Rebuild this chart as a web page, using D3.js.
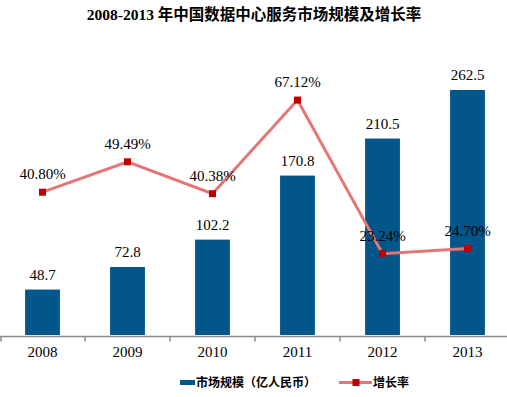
<!DOCTYPE html>
<html>
<head>
<meta charset="utf-8">
<script src="https://cdn.jsdelivr.net/npm/d3@7"></script>
<style>
  body { margin: 0; background: #fff; }
  svg { display: block; }
</style>
</head>
<body>
<div id="chart"></div>
<script>
var w = 507, h = 397;

var years = ["2008", "2009", "2010", "2011", "2012", "2013"];
var marketSize = [48.7, 72.8, 102.2, 170.8, 210.5, 262.5];
var growthRate = [40.80, 49.49, 40.38, 67.12, 23.24, 24.70];

var barColor = "#03568a", lineColor = "#e57676", markColor = "#c00000";
var serif = "'Liberation Serif', 'Times New Roman', 'Noto Sans CJK SC', serif";

var plotTop = 55, base = 335;

var x = d3.scaleBand().domain(years).range([0, 510])
    .paddingInner(0.59).paddingOuter(0.295);
var yBar = d3.scaleLinear().domain([0, 300]).range([base, plotTop]);
var yLine = d3.scaleLinear().domain([0, 80]).range([base, plotTop]);

var svg = d3.select("#chart").append("svg")
    .attr("width", w)
    .attr("height", h)

// title
svg.append("text")
    .attr("x", 254).attr("y", 20)
    .attr("text-anchor", "middle")
    .style("font-family", serif)
    .style("font-weight", "bold")
    .style("font-size", "15.5px")
    .text("2008-2013 年中国数据中心服务市场规模及增长率");

// bars
svg.selectAll(".bar").data(years).enter().append("rect")
    .attr("class", "bar")
    .attr("x", function(d){ return x(d); })
    .attr("y", function(d, i){ return yBar(marketSize[i]); })
    .attr("width", x.bandwidth())
    .attr("height", function(d, i){ return base - yBar(marketSize[i]); })
    .style("fill", barColor);

svg.selectAll(".barLabel").data(years).enter().append("text")
    .attr("class", "barLabel")
    .attr("x", function(d){ return x(d) + x.bandwidth() / 2; })
    .attr("y", function(d, i){ return yBar(marketSize[i]) - 10; })
    .attr("text-anchor", "middle")
    .style("font-family", serif)
    .style("font-size", "15px")
    .text(function(d, i){ return marketSize[i].toFixed(1); });

// x axis
var axis = svg.append("g")
    .attr("transform", "translate(0," + (base + 1.5) + ")")
    .call(d3.axisBottom(x).tickSize(0).tickPadding(10));
axis.select(".domain").remove();
axis.selectAll("text")
    .style("font-family", serif)
    .style("font-size", "15px")
    .style("fill", "#000");

axis.append("line")
    .attr("x1", 0).attr("x2", w)
    .style("stroke", "#8c8c8c").style("stroke-width", 1.5);

var edges = years.map(function(d){ return x(d) - x.step() * x.paddingInner() / 2; });
edges.push(x(years[years.length - 1]) + x.bandwidth() + x.step() * x.paddingInner() / 2);
axis.selectAll(".edge").data(edges).enter().append("line")
    .attr("class", "edge")
    .attr("x1", function(d){ return Math.max(d, 1); })
    .attr("x2", function(d){ return Math.max(d, 1); })
    .attr("y1", 0).attr("y2", 5)
    .style("stroke", "#8c8c8c").style("stroke-width", 1.5);

// growth line
var line = d3.line()
    .x(function(d, i){ return x(years[i]) + x.bandwidth() / 2; })
    .y(function(d){ return yLine(d); });

svg.append("path")
    .datum(growthRate)
    .attr("d", line)
    .style("fill", "none")
    .style("stroke", lineColor)
    .style("stroke-width", 3);

svg.selectAll(".mark").data(growthRate).enter().append("rect")
    .attr("class", "mark")
    .attr("x", function(d, i){ return x(years[i]) + x.bandwidth() / 2 - 3.5; })
    .attr("y", function(d){ return yLine(d) - 3.5; })
    .attr("width", 7).attr("height", 7)
    .style("fill", markColor);

svg.selectAll(".rateLabel").data(growthRate).enter().append("text")
    .attr("class", "rateLabel")
    .attr("x", function(d, i){ return x(years[i]) + x.bandwidth() / 2; })
    .attr("y", function(d){ return yLine(d) - 13; })
    .attr("text-anchor", "middle")
    .style("font-family", serif)
    .style("font-size", "15px")
    .text(function(d){ return d.toFixed(2) + "%"; });

// legend
var legend = svg.append("g").style("font-family", "'Noto Sans CJK SC', sans-serif")
    .style("font-size", "12px").style("font-weight", "bold");

legend.append("rect")
    .attr("x", 180).attr("y", 380).attr("width", 15).attr("height", 5)
    .style("fill", barColor);
legend.append("text")
    .attr("x", 196).attr("y", 387)
    .text("市场规模（亿人民币）");

legend.append("line")
    .attr("x1", 339).attr("x2", 372).attr("y1", 382.5).attr("y2", 382.5)
    .style("stroke", lineColor).style("stroke-width", 3);
legend.append("rect")
    .attr("x", 352.5).attr("y", 379).attr("width", 7).attr("height", 7)
    .style("fill", markColor);
legend.append("text")
    .attr("x", 373).attr("y", 387)
    .text("增长率");
</script>
</body>
</html>
